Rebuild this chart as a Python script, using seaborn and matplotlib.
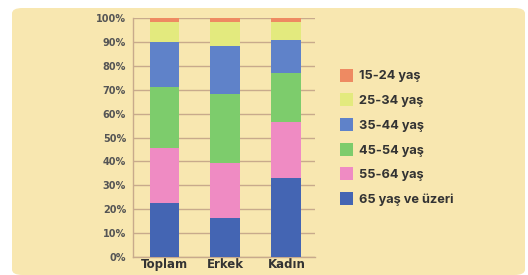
import numpy as np
import pandas as pd
import matplotlib
matplotlib.use('Agg')
import matplotlib.pyplot as plt
from matplotlib.patches import FancyBboxPatch, Patch
import seaborn as sns

# data (percent shares, bottom segment first)
groups = ['Toplam', 'Erkek', 'Kadın']
age_labels = ['65 yaş ve üzeri', '55-64 yaş', '45-54 yaş', '35-44 yaş', '25-34 yaş', '15-24 yaş']
age_65 = [22.5, 16.3, 33.0]
age_55 = [23.1, 23.0, 23.5]
age_45 = [25.4, 28.9, 20.5]
age_35 = [19.0, 20.1, 14.0]
age_25 = [8.3, 10.0, 7.3]
age_15 = [1.7, 1.7, 1.7]
colors = ['#4465b3', '#ef8bc3', '#7dcc6c', '#5f82c9', '#e3ea7e', '#ee8a62']

sns.set_theme(style='white')
plt.rcParams['font.family'] = ['DejaVu Sans']

segs = np.array([age_65, age_55, age_45, age_35, age_25, age_15])
cum = segs.cumsum(axis=0)

fig = plt.figure(figsize=(5.28, 2.75), dpi=100)
fig.patch.set_facecolor('white')
bg = FancyBboxPatch((12 / 528, 0), 513 / 528, 267 / 275,
                    boxstyle='round,pad=0,rounding_size=0.02',
                    transform=fig.transFigure, facecolor='#f8e7b0',
                    edgecolor='none', zorder=-5)
fig.patches.append(bg)

ax = fig.add_axes([133 / 528, 1 - 257 / 275, 182 / 528, 239 / 275])
ax.set_facecolor('none')
ax.set_zorder(2)

# draw cumulative bars from top segment down so they stack
for i in range(len(age_labels) - 1, -1, -1):
    df = pd.DataFrame({'grup': groups, 'deger': cum[i]})
    sns.barplot(data=df, x='grup', y='deger', color=colors[i], width=0.49,
                saturation=1, ax=ax, zorder=3, edgecolor='none')

ax.set_ylim(0, 100)
ax.set_xlim(-0.516, 2.47)
ax.set_yticks(np.arange(0, 101, 10))
ax.set_yticklabels([f'{v}%' for v in range(0, 101, 10)])
ax.yaxis.grid(True, color='#c8aa8c', linewidth=1.0, zorder=0)
ax.set_axisbelow(True)
for s in ['top', 'right']:
    ax.spines[s].set_visible(False)
for s in ['left', 'bottom']:
    ax.spines[s].set_color('#c8aa8c')
    ax.spines[s].set_linewidth(1.0)
ax.tick_params(axis='y', length=3, color='#c8aa8c', pad=2, labelsize=7,
               labelcolor='#555555')
ax.tick_params(axis='x', length=0, pad=1, labelsize=8.5, labelcolor='#333333')
for t in ax.get_yticklabels():
    t.set_fontweight('bold')
for t in ax.get_xticklabels():
    t.set_fontweight('bold')
ax.set_xlabel('')
ax.set_ylabel('')

handles = [Patch(facecolor=colors[i], edgecolor='none', label=age_labels[i])
           for i in range(len(age_labels) - 1, -1, -1)]
leg = fig.legend(handles=handles, loc='upper left',
                 bbox_to_anchor=(328 / 528, 1 - 57 / 275), frameon=False,
                 handlelength=1.05, handleheight=1.2, handletextpad=0.45,
                 labelspacing=0.85, prop={'family': 'Inter', 'weight': 'bold', 'size': 9.2})
for t in leg.get_texts():
    t.set_color('#333333')

fig.savefig('out.png', dpi=100)
